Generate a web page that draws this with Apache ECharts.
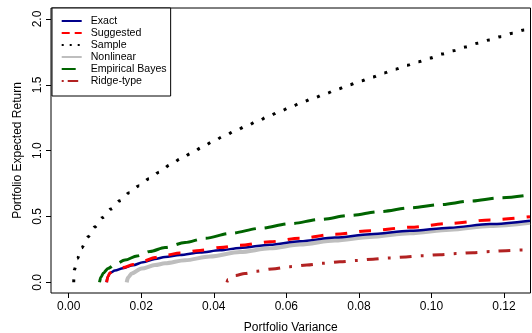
<!DOCTYPE html>
<html>
<head>
<meta charset="utf-8">
<script src="https://cdn.jsdelivr.net/npm/echarts@6/dist/echarts.min.js"></script>
<style>
  html, body { margin: 0; padding: 0; background: #fff; }
  #chart { width: 532px; height: 333px; }
</style>
</head>
<body>
<div id="chart"></div>
<script>
// Efficient frontiers: portfolio variance (x) against expected return (y)
const exactVar = [0.01042,0.01083,0.01139,0.01276,0.01497,0.01773,0.02048,0.02379,0.02655,0.03068,0.03619,0.04171,0.04722,0.05549,0.06376,0.07341,0.08306,0.09409,0.10511,0.11614,0.12717];
const exactRet = [0,0.044,0.071,0.089,0.107,0.130,0.152,0.177,0.192,0.208,0.226,0.243,0.261,0.285,0.312,0.340,0.365,0.391,0.415,0.442,0.468];

const suggestedVar = [0.01047,0.01083,0.01139,0.01276,0.01497,0.01773,0.02048,0.02379,0.02655,0.03068,0.03619,0.04171,0.04722,0.05549,0.06376,0.07341,0.08306,0.09409,0.10511,0.11614,0.12717];
const suggestedRet = [0,0.046,0.073,0.093,0.112,0.135,0.160,0.188,0.205,0.223,0.242,0.264,0.282,0.308,0.335,0.365,0.392,0.418,0.447,0.474,0.498];

const sampleVar = [0.00138,0.00154,0.00237,0.00358,0.00524,0.00717,0.00926,0.01166,0.01414,0.01671,0.01946,0.02222,0.02509,0.02793,0.03088,0.03380,0.03675,0.03970,0.04273,0.04584,0.04896,0.05210,0.05513,0.05825,0.06136,0.06459,0.06771,0.07085,0.07405,0.07727,0.08050,0.08369,0.08684,0.09003,0.09326,0.09649,0.09968,0.1029,0.1061,0.1093,0.1126,0.1159,0.1191,0.1223,0.1255,0.1274];
const sampleRet = [0,0.093,0.179,0.263,0.344,0.420,0.491,0.557,0.620,0.681,0.734,0.787,0.838,0.891,0.937,0.980,1.025,1.068,1.109,1.149,1.187,1.225,1.261,1.299,1.334,1.370,1.402,1.433,1.466,1.499,1.529,1.559,1.590,1.618,1.648,1.676,1.704,1.734,1.759,1.787,1.815,1.840,1.866,1.891,1.916,1.934];

const nonlinearVar = [0.01599,0.01635,0.01737,0.02012,0.02379,0.02655,0.03206,0.03895,0.04722,0.05549,0.06376,0.07341,0.08306,0.09409,0.10511,0.11614,0.12717];
const nonlinearRet = [0,0.036,0.067,0.105,0.131,0.144,0.167,0.196,0.230,0.258,0.287,0.317,0.344,0.373,0.400,0.428,0.453];

const ebVar = [0.00849,0.00890,0.00959,0.01083,0.01276,0.01552,0.01883,0.02241,0.02655,0.03207,0.03757,0.04447,0.05274,0.06101,0.06928,0.07756,0.08583,0.09410,0.10237,0.11064,0.11891,0.12717];
const ebRet = [0,0.040,0.071,0.105,0.135,0.169,0.200,0.234,0.264,0.302,0.334,0.371,0.410,0.445,0.477,0.508,0.537,0.565,0.590,0.616,0.641,0.664];

const ridgeVar = [0.04363,0.04391,0.04446,0.04584,0.04860,0.05191,0.05604,0.06101,0.06569,0.07011,0.07479,0.07948,0.08389,0.08858,0.09299,0.09768,0.10237,0.10678,0.11146,0.11614,0.12055,0.12524,0.12717];
const ridgeRet = [0,0.021,0.036,0.051,0.067,0.084,0.101,0.119,0.132,0.144,0.156,0.166,0.176,0.185,0.193,0.202,0.210,0.218,0.225,0.233,0.240,0.246,0.249];

const xTicks = [0, 0.02, 0.04, 0.06, 0.08, 0.10, 0.12];
const yTicks = [0, 0.5, 1.0, 1.5, 2.0];

const FONT = 'Liberation Sans, Arial, Helvetica, sans-serif';

function pairs(xs, ys) {
  return xs.map((x, i) => [x, ys[i]]);
}

function frontier(name, xs, ys, color, width, dash) {
  return {
    name: name,
    type: 'line',
    data: pairs(xs, ys),
    symbol: 'none',
    showSymbol: false,
    smooth: 0.3,
    smoothMonotone: 'x',
    clip: true,
    lineStyle: { color: color, width: width, type: dash, cap: 'butt', join: 'round' },
    itemStyle: { color: color },
    emphasis: { disabled: true }
  };
}

// legend keys: line only, no marker
function key(name, dash) {
  return { name: name, itemStyle: { opacity: 0 }, lineStyle: { width: 2, type: dash, opacity: 1, cap: 'butt' } };
}

const chart = echarts.init(document.getElementById('chart'), null, { renderer: 'canvas' });

chart.setOption({
  animation: false,
  backgroundColor: '#ffffff',
  grid: {
    left: 51, right: 1.5, top: 8, bottom: 40,
    outerBoundsMode: 'none',
    containLabel: false,
    show: true, borderColor: '#000', borderWidth: 1, backgroundColor: 'transparent'
  },
  xAxis: {
    type: 'value',
    min: -0.00488, max: 0.12731,
    name: 'Portfolio Variance',
    nameLocation: 'middle',
    nameGap: 28.5,
    nameTextStyle: { color: '#000', fontSize: 12, fontFamily: FONT },
    axisLine: { show: false, onZero: false },
    splitLine: { show: false },
    axisTick: { show: true, length: 5, customValues: xTicks, lineStyle: { color: '#000', width: 1 } },
    axisLabel: {
      customValues: xTicks, margin: 8, color: '#000', fontSize: 12, fontFamily: FONT,
      formatter: v => v.toFixed(2)
    }
  },
  yAxis: {
    type: 'value',
    min: -0.0813, max: 2.0835,
    name: 'Portfolio Expected Return',
    nameLocation: 'middle',
    nameGap: 20,
    nameTextStyle: { color: '#000', fontSize: 12, fontFamily: FONT },
    axisLine: { show: false, onZero: false },
    splitLine: { show: false },
    axisTick: { show: true, length: 5, customValues: yTicks, lineStyle: { color: '#000', width: 1 } },
    axisLabel: {
      customValues: yTicks, margin: 7, rotate: 90, color: '#000', fontSize: 12, fontFamily: FONT,
      formatter: v => v.toFixed(1)
    }
  },
  legend: {
    orient: 'vertical',
    left: 52, top: 8,
    itemWidth: 20, itemHeight: 12, itemGap: 1.0,
    padding: [7.5, 4, 9.5, 8.7],
    borderColor: '#000', borderWidth: 1, borderRadius: 0,
    backgroundColor: '#fff',
    selectedMode: false,
    textStyle: { color: '#000', fontSize: 10.6, fontFamily: FONT, padding: [0, 0, 0, 4] },
    data: [
      key('Exact', 'solid'),
      key('Suggested', [8, 5]),
      key('Sample', [2, 6]),
      key('Nonlinear', 'solid'),
      key('Empirical Bayes', [14, 6]),
      key('Ridge-type', [2, 4, 10.5, 4])
    ]
  },
  series: [
    frontier('Nonlinear', nonlinearVar, nonlinearRet, '#BEBEBE', 4, 'solid'),
    frontier('Exact', exactVar, exactRet, '#00008B', 2.5, 'solid'),
    frontier('Suggested', suggestedVar, suggestedRet, '#FF0000', 3, [12, 12]),
    frontier('Empirical Bayes', ebVar, ebRet, '#006400', 3, [21, 9]),
    frontier('Ridge-type', ridgeVar, ridgeRet, '#B22222', 3, [3, 9, 12, 9]),
    frontier('Sample', sampleVar, sampleRet, '#000000', 3, [3, 9])
  ]
});
</script>
</body>
</html>
